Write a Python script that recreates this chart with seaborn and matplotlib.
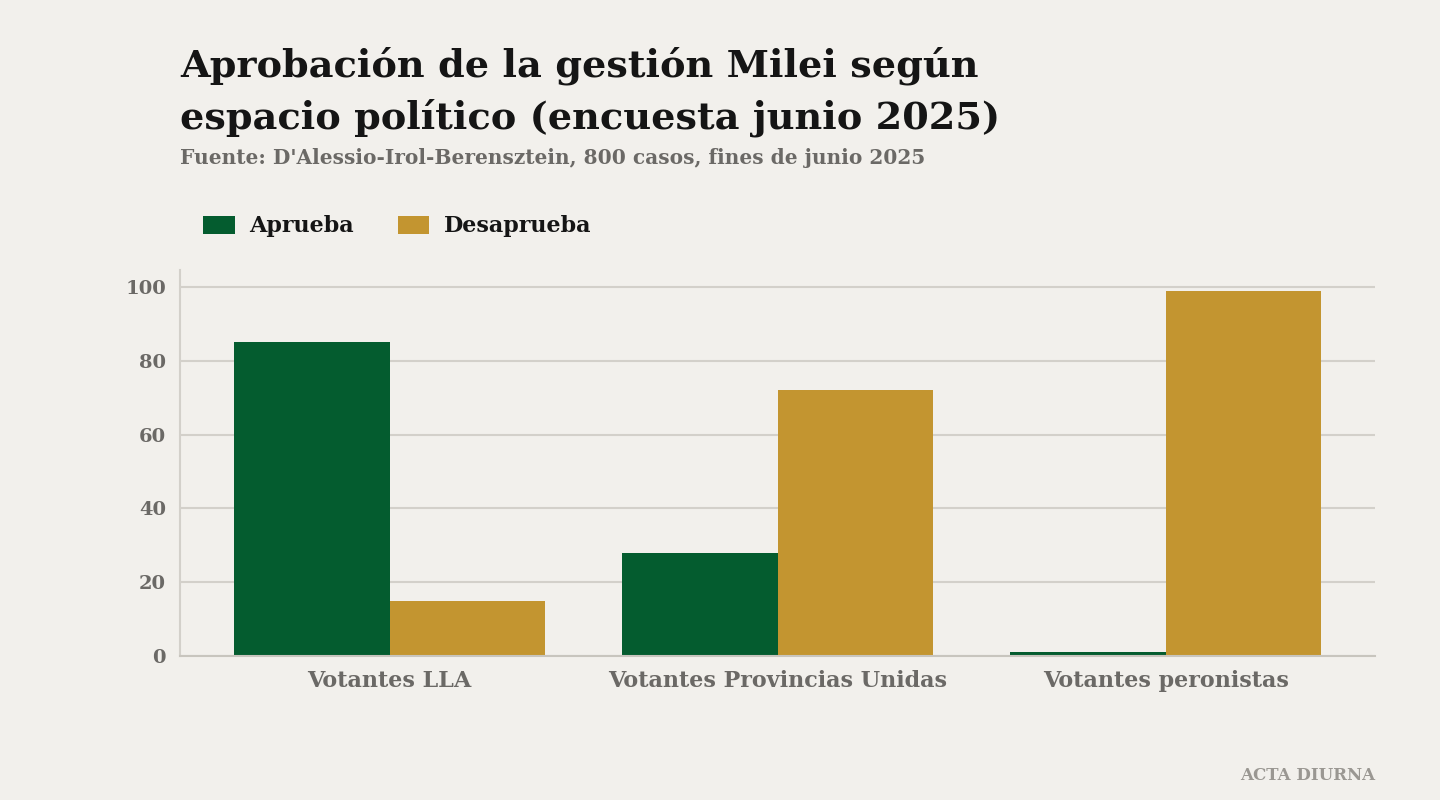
import pandas as pd
import matplotlib.pyplot as plt
import seaborn as sns
from matplotlib.patches import Patch

# Data
categories = ['Votantes LLA', 'Votantes Provincias Unidas', 'Votantes peronistas']
aprueba = [85, 28, 1]
desaprueba = [15, 72, 99]
series = ['Aprueba', 'Desaprueba']

df = pd.DataFrame({
    'espacio': categories * 2,
    'serie': ['Aprueba'] * 3 + ['Desaprueba'] * 3,
    'valor': aprueba + desaprueba})

bg = '#F2F0EC'
palette = {'Aprueba': '#045C2F', 'Desaprueba': '#C39530'}
grid_c = '#D3D0CA'
tick_c = '#6B6966'

sns.set_theme(style='white')
plt.rcParams['font.family'] = ['DejaVu Serif', 'DejaVu Sans']

fig = plt.figure(figsize=(14.4, 8), dpi=100, facecolor=bg)
ax = fig.add_axes([0.125, 0.18, 0.83, 0.4825], facecolor=bg)

sns.barplot(data=df, x='espacio', y='valor', hue='serie', palette=palette,
            order=categories, hue_order=series, width=0.8, saturation=1,
            linewidth=0, legend=False, ax=ax)

ax.set_xlim(-0.54, 2.54)
ax.set_ylim(0, 104.6)
ax.set_yticks([0, 20, 40, 60, 80, 100])
ax.yaxis.grid(True, color=grid_c, linewidth=1.5)
ax.set_axisbelow(True)
ax.set_xlabel('')
ax.set_ylabel('')
for s in ['top', 'right']:
    ax.spines[s].set_visible(False)
ax.spines['left'].set_color(grid_c)
ax.spines['left'].set_linewidth(1.5)
ax.spines['bottom'].set_color('#C8C5BE')
ax.spines['bottom'].set_linewidth(1.5)
ax.tick_params(axis='y', length=0, pad=10, labelsize=14, labelcolor=tick_c)
ax.tick_params(axis='x', length=0, pad=10, labelsize=16, labelcolor=tick_c)
for lab in ax.get_xticklabels() + ax.get_yticklabels():
    lab.set_fontweight('bold')

fig.text(0.125, 0.942, 'Aprobación de la gestión Milei según\nespacio político (encuesta junio 2025)',
         fontsize=27.5, fontweight='bold', color='#151515', ha='left', va='top',
         linespacing=1.45)
fig.text(0.125, 0.79, "Fuente: D'Alessio-Irol-Berensztein, 800 casos, fines de junio 2025",
         fontsize=14.5, fontweight='bold', color=tick_c, ha='left', va='bottom')

handles = [Patch(facecolor=palette[s], edgecolor='none', label=s) for s in series]
fig.legend(handles=handles, loc='center left', bbox_to_anchor=(0.1413, 0.717),
           ncol=2, frameon=False, handlelength=1.4, handleheight=0.85,
           columnspacing=2.0, handletextpad=0.65, borderpad=0, borderaxespad=0,
           prop={'size': 16, 'weight': 'bold'}, labelcolor='#151515')

fig.text(0.955, 0.02, 'ACTA DIURNA', fontsize=12, fontweight='bold',
         color='#9A9792', ha='right', va='bottom')

fig.savefig('out.png', dpi=100, facecolor=bg)
